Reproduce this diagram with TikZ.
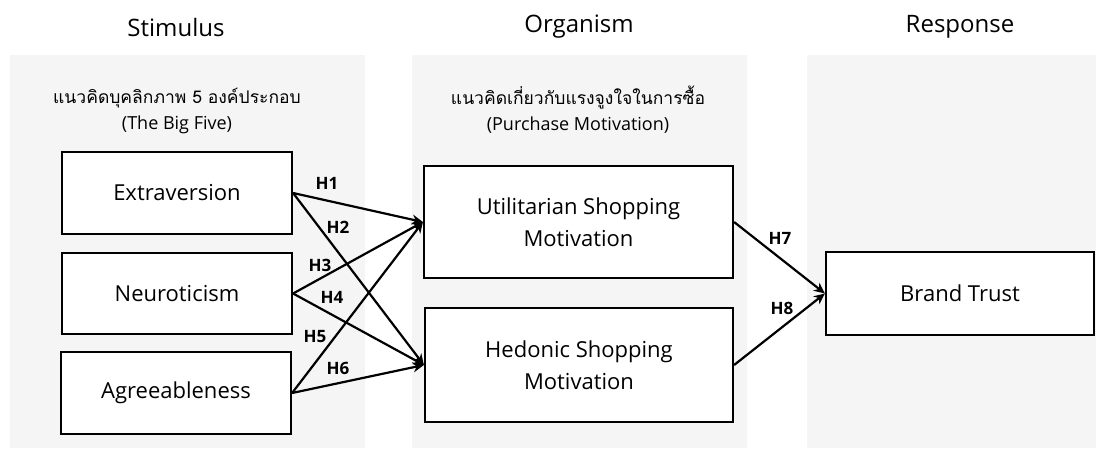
\documentclass[tikz,border=0pt]{standalone}
\usepackage{fontspec}
\setmainfont{Open Sans}
\newfontfamily\thaifont[Script=Thai]{Loma}
\usetikzlibrary{arrows.meta}
\definecolor{panel}{HTML}{F5F5F5}
\begin{document}
\begin{tikzpicture}[x=1pt,y=-1pt,
 box/.style={draw=black, line width=2.2pt, fill=white, inner sep=0pt, align=center, font=\fontsize{22}{32}\selectfont},
 title/.style={font=\fontsize{24}{28}\selectfont},
 sub/.style={align=center, font=\fontsize{18}{22}\selectfont},
 thsub/.style={font=\thaifont\fontsize{17.5}{22}\selectfont},
 hyp/.style={font=\bfseries\fontsize{17}{20}\selectfont},
 link/.style={-{Stealth[length=11pt,width=10pt]}, line width=2.2pt}]
\useasboundingbox (0,0) rectangle (1096,448);
\fill[white] (0,0) rectangle (1096,448);
\fill[panel] (10,55) rectangle (365,448);
\fill[panel] (412,55) rectangle (747,448);
\fill[panel] (807,55) rectangle (1096,448);
% titles
\node[title] (tS) at (176,27) {Stimulus};
\node[title] (tO) at (579,27) {Organism};
\node[title] (tR) at (960,27) {Response};
% subtitles
\node[thsub] (sS) at (177,98) {แนวคิดบุคลิกภาพ 5 องค์ประกอบ};
\node[sub] (sS2) at (177,125) {(The Big Five)};
\node[thsub] (sO) at (578,98) {แนวคิดเกี่ยวกับแรงจูงใจในการซื้อ};
\node[sub] (sO2) at (578,125) {(Purchase Motivation)};
% boxes
\node[box, minimum width=230pt, minimum height=82pt] (ext) at (177,193) {Extraversion};
\node[box, minimum width=230pt, minimum height=81pt] (neu) at (177,293.5) {Neuroticism};
\node[box, minimum width=230pt, minimum height=82pt] (agr) at (176,393) {Agreeableness};
\node[box, minimum width=309pt, minimum height=112pt] (uti) at (578.5,222) {Utilitarian Shopping\\Motivation};
\node[box, minimum width=308pt, minimum height=114pt] (hed) at (579,365) {Hedonic Shopping\\Motivation};
\node[box, minimum width=268pt, minimum height=83pt] (bt) at (960,293.5) {Brand Trust};
% links
\draw[link] (ext.east) -- (uti.west);
\draw[link] (ext.east) -- (hed.west);
\draw[link] (neu.east) -- (uti.west);
\draw[link] (neu.east) -- (hed.west);
\draw[link] (agr.east) -- (uti.west);
\draw[link] (agr.east) -- (hed.west);
\draw[link] (uti.east) -- (bt.west);
\draw[link] (hed.east) -- (bt.west);
% labels
\node[hyp] (h1) at (327,183) {H1};
\node[hyp] (h2) at (338,227) {H2};
\node[hyp] (h3) at (320,265) {H3};
\node[hyp] (h4) at (332,297) {H4};
\node[hyp] (h5) at (315,337) {H5};
\node[hyp] (h6) at (338,368) {H6};
\node[hyp] (h7) at (780,238) {H7};
\node[hyp] (h8) at (782,308) {H8};
\end{tikzpicture}
\end{document}
